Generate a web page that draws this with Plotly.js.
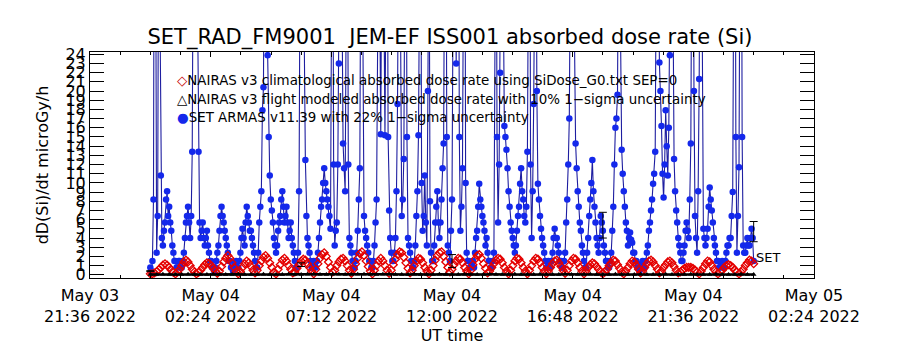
<!DOCTYPE html>
<html>
<head>
<meta charset="utf-8">
<script src="https://cdn.plot.ly/plotly-3.0.1.min.js"></script>
<style>html,body{margin:0;padding:0;background:#fff;}#chart{width:900px;height:350px;}</style>
</head>
<body>
<div id="chart"></div>
<script>
// ---- data ----
// SET ARMAS dose rate, microGy/h, 2.5-minute samples from 2022-05-04 00:00 UT (one row = one hour)
const setArmas = [
  0.8, 0.4, 1.5, 8.2, 60, 40, 2.4, 6.4, 45, 30, 10.8, 4.0, 3.2, 4.8, 5.7, 8.2, 9.1, 6.4, 7.4, 5.7, 4.8, 3.2, 2.4, 1.5,
  1.5, 0.8, 0.8, 1.5, 1.5, 0.8, 0.8, 1.5, 2.4, 4.0, 5.7, 6.4, 7.4, 5.7, 4.0, 6.4, 13.4, 40, 70, 80, 55, 30, 13.4, 5.7,
  4.0, 4.8, 5.7, 4.0, 3.2, 4.0, 4.8, 3.2, 2.4, 1.5, 1.5, 0.8, 0.8, 0.4, 0.8, 1.5, 2.4, 3.2, 4.8, 6.4, 7.4, 6.4, 5.7, 4.8,
  4.0, 3.2, 2.4, 1.5, 1.5, 0.8, 0.8, 0.4, 0.8, 1.2, 1.5, 0.8, 0.8, 1.5, 2.4, 4.0, 5.0, 4.0, 3.2, 5.7, 7.4, 6.4, 5.7, 4.8,
  4.8, 4.0, 3.2, 2.4, 1.5, 0.8, 0.8, 2.4, 5.7, 7.4, 9.1, 17.9, 20.4, 45, 60, 40, 23.9, 15, 10.8, 8.2, 7.0, 5.7, 4.0, 3.2,
  2.4, 3.2, 4.8, 5.7, 6.4, 8.2, 9.1, 7.4, 5.7, 6.4, 7.4, 5.7, 4.0, 4.8, 5.7, 4.0, 3.2, 2.4, 1.5, 0.8, 0.8, 2.4, 9.1, 40,
  65, 70, 40, 25, 12.5, 6.4, 4.0, 3.2, 2.4, 1.5, 0.8, 0.8, 1.5, 1.2, 0.8, 1.5, 2.4, 4.0, 5.7, 7.4, 8.2, 10, 11.6, 10,
  9.1, 8.2, 7.4, 6.4, 5.0, 30, 50, 12, 3.2, 4.8, 5.7, 12, 23, 50, 60, 30, 14.3, 11.6, 9.1, 30, 55, 12, 4.0, 3.2,
  2.4, 1.5, 0.8, 0.8, 1.5, 2.4, 4.8, 8.2, 11.6, 40, 70, 25, 6.4, 4.8, 4.0, 3.2, 2.4, 1.5, 1.5, 0.8, 0.8, 1.5, 3.2, 5.7,
  8.2, 25, 45, 30, 15.3, 40, 60, 30, 15.2, 30, 50, 15, 7.0, 4.0, 2.4, 1.5, 1.5, 2.4, 4.0, 9.1, 18.6, 40, 60, 25,
  6.4, 8.2, 12.6, 35, 55, 15, 4.0, 3.2, 2.4, 1.5, 0.8, 0.8, 1.5, 3.2, 6.4, 9.1, 15.2, 35, 50, 10, 4.8, 6.4, 10.8, 5.7,
  3.2, 20, 45, 8, 2.4, 1.5, 1.5, 3.2, 5.7, 7.4, 9.1, 5.7, 4.0, 5.7, 8.2, 11.6, 14.3, 40, 60, 15, 3.2, 2.4, 1.5, 4.8,
  8.2, 30, 50, 35, 23, 40, 55, 15, 4.8, 7.4, 11.6, 35, 60, 10, 2.4, 1.5, 1.5, 0.8, 0.8, 1.2, 1.5, 0.8, 2.4, 4.0,
  4.8, 7.4, 9.9, 8.2, 7.4, 6.4, 5.7, 4.8, 3.2, 4.0, 2.4, 1.5, 1.5, 0.8, 0.8, 1.5, 2.4, 25, 50, 15, 5.7, 12, 22, 45,
  60, 30, 16.2, 15, 13.6, 11.6, 9.1, 7.4, 5.7, 4.8, 4.0, 3.2, 2.4, 3.2, 4.8, 6.4, 7.4, 9.9, 11.6, 9.1, 8.2, 6.4, 5.7, 7.4,
  13.4, 35, 60, 12, 4.0, 9.1, 18.6, 35, 55, 20, 9.9, 8.2, 6.4, 5.0, 4.0, 3.2, 2.4, 1.5, 0.8, 0.8, 1.5, 1.2, 0.8, 1.5,
  2.4, 4.0, 5.0, 4.0, 4.0, 3.2, 2.4, 1.5, 1.5, 0.8, 0.8, 1.5, 2.4, 5.7, 8.2, 12, 17, 40, 60, 70, 45, 25, 14.3, 11.6,
  9.1, 7.4, 5.7, 4.8, 3.2, 2.4, 1.5, 0.8, 0.8, 2.4, 4.0, 6.4, 8.2, 10, 12.5, 9.1, 7.4, 5.7, 4.0, 3.2, 2.4, 4.0, 6.4, 5.7,
  4.8, 3.2, 2.4, 1.5, 1.5, 0.8, 0.8, 1.5, 2.4, 4.8, 7.4, 12, 16, 17, 19.6, 40, 60, 25, 13.6, 11, 9.1, 7.4, 5.7, 4.8,
  3.2, 4.0, 4.6, 3.8, 3.5, 2.4, 2.4, 1.5, 1.5, 0.8, 0.8, 0.4, 0.8, 1.2, 1.5, 0.8, 0.8, 1.5, 2.4, 3.2, 4.8, 5.7, 7.0, 8.2,
  9.9, 11, 13.4, 35, 60, 40, 23.1, 20, 16.2, 11, 8.4, 12, 17.9, 14, 10.8, 16, 23.9, 45, 60, 30, 12.6, 9.1, 7.0, 5.7,
  4.0, 3.2, 2.4, 1.5, 1.5, 2.4, 3.2, 4.8, 5.7, 4.8, 4.0, 8.2, 14.3, 40, 60, 20, 6.4, 4.0, 2.4, 9.1, 21.3, 45, 60, 25,
  5.0, 4.0, 3.2, 4.0, 5.0, 7.4, 9.5, 8.2, 7.0, 5.7, 4.0, 3.2, 2.4, 1.5, 1.5, 0.8, 0.8, 1.2, 1.5, 0.8, 0.8, 1.5, 2.4, 3.2,
  3.2, 4.0, 4.0, 6.4, 9.0, 35, 60, 15, 2.4, 6.4, 11.7, 40, 60, 15, 3.2, 2.4, 2.4, 3.2, 4.0, 3.2, 3.2, 4.0, 5.0, 4.0,
  1.5
];
// NAIRAS v3 climatological dose rate, 5-minute samples
const nairasClim = [
  0.1, 0.1, 0.2, 0.35, 0.55, 0.8, 1.05, 1.2, 1.05, 0.8, 0.5, 0.25, 0.1,
  0.3, 0.6, 1.0, 1.4, 1.6, 1.4, 1.0, 0.6, 0.3, 0.1,
  0.25, 0.5, 0.8, 1.1, 1.3, 1.25, 1.0, 0.7, 0.4, 0.15,
  0.4, 0.9, 1.4, 1.8, 2.1, 1.8, 1.3, 0.8, 0.35, 0.1,
  0.35, 0.8, 1.2, 1.5, 1.3, 0.9, 0.5, 0.2,
  0.5, 1.0, 1.5, 1.9, 2.1, 1.8, 1.3, 0.8, 0.3, 0.1,
  0.6, 1.1, 1.6, 1.8, 1.5, 1.0, 0.6, 0.2,
  0.3, 0.7, 1.1, 1.5, 1.7, 1.6, 1.2, 0.8, 0.4, 0.1,
  0.6, 1.2, 1.8, 2.2, 2.4, 2.0, 1.4, 0.8, 0.3,
  0.5, 1.0, 1.4, 1.7, 1.8, 1.5, 1.0, 0.5, 0.15,
  0.6, 1.2, 1.8, 2.3, 2.5, 2.1, 1.5, 0.9, 0.4, 0.1,
  0.5, 1.0, 1.5, 1.8, 1.5, 1.0, 0.5, 0.15,
  0.5, 1.1, 1.7, 2.2, 2.5, 2.4, 1.9, 1.3, 0.7, 0.2,
  0.5, 1.0, 1.5, 1.8, 1.7, 1.3, 0.8, 0.4, 0.1,
  0.5, 1.0, 1.6, 2.1, 2.4, 2.5, 2.0, 1.4, 0.8, 0.3,
  0.6, 1.1, 1.5, 1.8, 1.7, 1.3, 0.8, 0.4, 0.1,
  0.5, 1.1, 1.7, 2.1, 2.2, 1.8, 1.2, 0.7, 0.2,
  0.4, 0.8, 1.2, 1.6, 1.8, 1.7, 1.3, 0.8, 0.4, 0.1,
  0.5, 1.0, 1.5, 1.8, 1.7, 1.3, 0.8, 0.4, 0.1,
  0.5, 1.0, 1.5, 1.8, 1.7, 1.3, 0.8, 0.4, 0.1,
  0.4, 0.8, 1.2, 1.5, 1.6, 1.3, 0.9, 0.5, 0.15,
  0.5, 1.0, 1.5, 1.8, 1.7, 1.3, 0.8, 0.4, 0.1,
  0.4, 0.8, 1.1, 1.3, 1.2, 0.9, 0.6, 0.3, 0.1,
  0.3, 0.6, 1.0, 1.3, 1.6, 1.5, 1.1, 0.7, 0.3, 0.1,
  0.4, 0.8, 1.2, 1.5, 1.4, 1.0, 0.6, 0.2,
  0.4, 0.8, 1.2, 1.5, 1.6, 1.4, 1.0, 0.6, 0.2,
  0.4, 0.8, 1.1, 1.4, 1.5, 1.3, 0.9, 0.5, 0.2,
  0.3, 0.5, 0.7, 0.8, 0.8, 0.8, 0.7, 0.5, 0.3, 0.1,
  0.4, 0.8, 1.2, 1.5, 1.4, 1.0, 0.6, 0.3, 0.1,
  0.3, 0.5, 0.8, 1.0, 1.1, 1.0, 0.8, 0.5, 0.3, 0.1,
  0.3, 0.6, 1.0, 1.3, 1.6, 1.5, 1.2
];
// NAIRAS v3 flight modeled dose rate, 15-minute samples
const nairasFlight = [
  0.02, 0.03, 0.05, 0.03, 0.02, 0.04, 0.05, 0.03, 0.02, 0.04, 0.05, 0.03,
  0.02, 0.04, 0.06, 0.03, 0.02, 0.04, 0.06, 0.04, 0.02, 0.04, 0.06, 0.04,
  0.02, 0.05, 0.06, 0.04, 0.02, 0.05, 0.06, 0.04, 0.02, 0.05, 0.06, 0.04,
  0.02, 0.05, 0.06, 0.04, 0.02, 0.04, 0.06, 0.04, 0.02, 0.04, 0.06, 0.03,
  0.02, 0.04, 0.06, 0.03, 0.02, 0.04, 0.05, 0.03, 0.02, 0.04, 0.05, 0.03,
  0.02, 0.04, 0.05, 0.03, 0.02, 0.04, 0.05, 0.03, 0.02, 0.04, 0.05, 0.03,
  0.02, 0.03, 0.05, 0.03, 0.02, 0.03, 0.05, 0.03, 0.02, 0.03, 0.05, 0.03,
  0.02, 0.03, 0.05, 0.03, 0.02, 0.03, 0.05, 0.03, 0.02, 0.03, 0.05, 0.03,
  0.02
];
// SET 1-sigma error bars
const errTimes = ['2022-05-04 00:00', '2022-05-04 06:00', '2022-05-04 12:00', '2022-05-04 18:00', '2022-05-05 00:00'];
const errValues = [0.4, 1.1, 1.5, 5.4, 4.7];
const errSizes = [0.05, 0.2, 0.7, 1.4, 1.1];

const legendLabels = [
  'NAIRAS v3 climatological absorbed dose rate using SiDose_G0.txt SEP=0',
  'NAIRAS v3 flight modeled absorbed dose rate with 10% 1\u2212sigma uncertainty',
  'SET ARMAS v11.39 with 22% 1\u2212sigma uncertainty'
];
const tickLabels = [
  'May 03<br>21:36 2022', 'May 04<br>02:24 2022', 'May 04<br>07:12 2022',
  'May 04<br>12:00 2022', 'May 04<br>16:48 2022', 'May 04<br>21:36 2022',
  'May 05<br>02:24 2022'
];
const titleText = 'SET_RAD_FM9001\u00a0\u00a0JEM-EF ISS001 absorbed dose rate (Si)';

// ---- time axes ----
const START = Date.UTC(2022, 4, 4, 0, 0);
const MIN = 60000;
const timesFor = (arr, stepMin) => arr.map((_, i) => START + i * stepMin * MIN);
const AX0 = Date.UTC(2022, 4, 3, 21, 36);
const TICKSTEP = 288 * MIN;
const tickVals = tickLabels.map((_, k) => AX0 + k * TICKSTEP);

const FONT = 'DejaVu Sans, Liberation Sans, sans-serif';
const BLUE = 'rgb(20,40,235)';
const RED = 'rgb(228,0,0)';

const traces = [
  {
    x: timesFor(setArmas, 2.5), y: setArmas, type: 'scatter', mode: 'lines+markers',
    line: {color: 'rgb(30,30,160)', width: 1.1},
    marker: {color: BLUE, size: 6.5, symbol: 'circle'},
    showlegend: false, hoverinfo: 'skip'
  },
  {
    x: timesFor(nairasClim, 5), y: nairasClim, type: 'scatter', mode: 'markers',
    marker: {color: RED, size: 6, symbol: 'diamond-open', line: {color: RED, width: 1.3}},
    showlegend: false, hoverinfo: 'skip'
  },
  {
    x: timesFor(nairasFlight, 15), y: nairasFlight, type: 'scatter', mode: 'lines+markers',
    line: {color: 'black', width: 2.5},
    marker: {color: 'black', size: 5, symbol: 'triangle-up'},
    showlegend: false, hoverinfo: 'skip'
  },
  {
    x: errTimes, y: errValues, type: 'scatter', mode: 'markers',
    marker: {color: 'rgba(0,0,0,0)', size: 1},
    error_y: {type: 'data', array: errSizes, visible: true, color: 'black', thickness: 1, width: 4},
    showlegend: false, hoverinfo: 'skip'
  }
];

const legendSymbols = [
  '<span style="color:rgb(200,0,0)">\u25C7</span>',
  '<span style="color:black">\u25B3</span>',
  '<span style="color:' + BLUE + '">\u25CF</span>'
];
const legendY = [0.876, 0.792, 0.708];

const annotations = legendLabels.map((t, k) => ({
  xref: 'paper', yref: 'paper', x: 0.117, y: legendY[k], xanchor: 'left', yanchor: 'middle',
  showarrow: false, text: legendSymbols[k] + t, font: {family: FONT, size: 13.4, color: 'black'}
}));
annotations.push({
  x: errTimes[errTimes.length - 1], y: 1.85, xref: 'x', yref: 'y', xanchor: 'left', yanchor: 'middle',
  showarrow: false, text: 'SET', font: {family: FONT, size: 13, color: 'black'}
});

const layout = {
  width: 900, height: 350,
  margin: {l: 90, r: 86, t: 52, b: 72},
  paper_bgcolor: 'white', plot_bgcolor: 'white',
  font: {family: FONT, color: 'black', size: 16},
  title: {text: titleText, x: 0.5, xanchor: 'center', y: 0.895, yanchor: 'middle', font: {family: FONT, size: 21, color: 'black'}},
  xaxis: {
    type: 'date', range: [AX0, AX0 + 6 * TICKSTEP],
    tickmode: 'array', tickvals: tickVals, ticktext: tickLabels,
    ticks: 'inside', ticklen: 5, tickcolor: 'black', tickwidth: 1,
    minor: {tickmode: 'linear', tick0: AX0, dtick: 72 * MIN, ticklen: 3, ticks: 'inside', tickcolor: 'black'},
    showline: true, linecolor: 'black', linewidth: 1, mirror: 'ticks',
    showgrid: false, zeroline: false, ticklabelstandoff: 3,
    tickfont: {family: FONT, size: 16, color: 'black'},
    title: {text: 'UT time', font: {family: FONT, size: 16, color: 'black'}, standoff: 4},
    automargin: false
  },
  yaxis: {
    range: [-0.35, 24.25], tickmode: 'linear', tick0: 0, dtick: 1,
    ticks: 'inside', ticklen: 14, tickcolor: 'black', tickwidth: 1,
    showline: true, linecolor: 'black', linewidth: 1, mirror: 'ticks',
    showgrid: false, zeroline: false,
    tickfont: {family: FONT, size: 16, color: 'black'},
    title: {text: 'dD(Si)/dt microGy/h', font: {family: FONT, size: 16, color: 'black'}, standoff: 12},
    automargin: false
  },
  annotations: annotations,
  showlegend: false
};

Plotly.newPlot('chart', traces, layout, {staticPlot: true, displayModeBar: false});
</script>
</body>
</html>
